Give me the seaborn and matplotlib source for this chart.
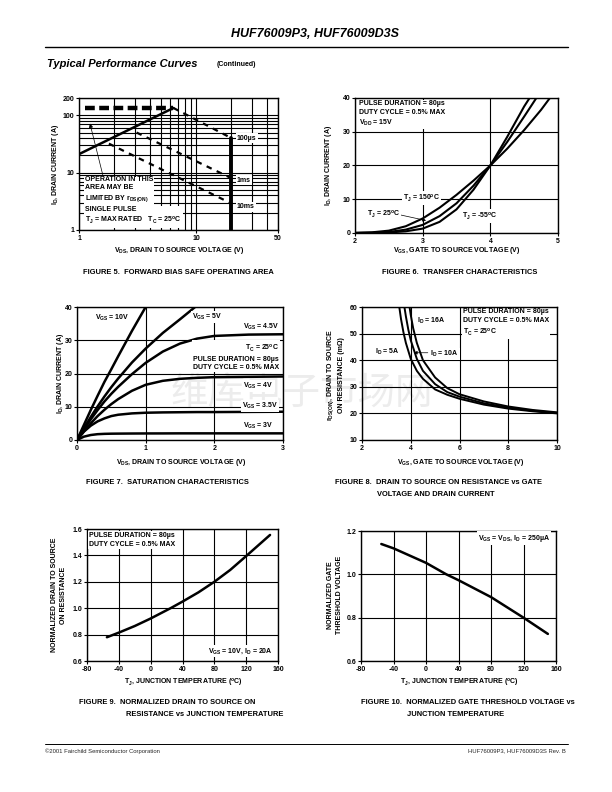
import numpy as np
import pandas as pd
import matplotlib
matplotlib.use("Agg")
import matplotlib.pyplot as plt
import seaborn as sns
from matplotlib.ticker import FixedLocator, FixedFormatter, LogLocator, NullFormatter

# ---------------- data ----------------
# Figure 5: forward bias safe operating area (log-log)
soa_rds_vds = [1.0, 6.4]
soa_rds_id = [21.0, 134.0]
soa_imax_vds = [1.12, 6.4]
soa_imax_id = [134.0, 134.0]
soa_100us_vds = [6.4, 20.0]
soa_100us_id = [134.0, 40.0]
soa_1ms_vds = [3.1, 20.0]
soa_1ms_id = [50.0, 8.0]
soa_10ms_vds = [1.8, 20.0]
soa_10ms_id = [32.0, 2.9]
soa_bv_vds = [20.0, 20.0]
soa_bv_id = [1.0, 40.0]

# Figure 6: transfer characteristics
tr_vgs_150 = [2.0, 2.25, 2.5, 2.75, 3.0, 3.25, 3.5, 3.75, 4.0, 4.25, 4.5, 4.75, 4.88]
tr_id_150 = [0.05, 0.2, 0.7, 2.0, 4.3, 7.5, 11.3, 15.5, 20.0, 25.0, 30.5, 36.5, 40.0]
tr_vgs_25 = [2.0, 2.25, 2.5, 2.75, 3.0, 3.25, 3.5, 3.75, 4.0, 4.25, 4.5, 4.68]
tr_id_25 = [0.02, 0.08, 0.3, 1.0, 2.4, 5.0, 8.8, 14.0, 20.0, 27.0, 34.5, 40.0]
tr_vgs_m55 = [2.0, 2.25, 2.5, 2.75, 3.0, 3.25, 3.5, 3.75, 4.0, 4.25, 4.5, 4.58]
tr_id_m55 = [0.0, 0.03, 0.15, 0.5, 1.3, 3.3, 7.0, 12.8, 20.0, 28.5, 37.5, 40.0]

# Figure 7: saturation characteristics
sat_vds = [0.0, 0.1, 0.2, 0.3, 0.4, 0.5, 0.6, 0.8, 1.0, 1.25, 1.5, 1.75, 2.0, 2.5, 3.0]
sat_vds_10v = [0.0, 0.1, 0.2, 0.3, 0.4, 0.5, 0.6, 0.8, 1.0]
sat_id_10v = [0.0, 4.5, 9.0, 13.3, 17.5, 21.3, 25.2, 32.8, 40.0]
sat_vds_5v = [0.0, 0.1, 0.2, 0.3, 0.4, 0.5, 0.6, 0.8, 1.0, 1.25, 1.5, 1.72]
sat_id_5v = [0.0, 3.5, 6.9, 10.1, 13.1, 15.9, 18.5, 23.3, 27.5, 32.2, 36.3, 40.0]
sat_id_45v = [0.0, 3.2, 6.2, 9.0, 11.6, 13.9, 16.0, 19.8, 23.2, 26.6, 29.0, 30.5, 31.3, 31.7, 31.8]
sat_id_4v = [0.0, 2.6, 5.0, 7.2, 9.1, 10.8, 12.3, 14.8, 16.6, 17.8, 18.4, 18.7, 18.9, 19.0, 19.1]
sat_id_35v = [0.0, 2.5, 4.3, 5.6, 6.5, 7.2, 7.6, 8.0, 8.2, 8.3, 8.35, 8.4, 8.4, 8.45, 8.5]
sat_id_3v = [0.0, 1.0, 1.5, 1.75, 1.85, 1.9, 1.92, 1.95, 1.97, 1.98, 2.0, 2.0, 2.0, 2.0, 2.0]

# Figure 8: rDS(on) vs VGS
rds_vgs_5a = [3.53, 3.6, 3.7, 3.8, 4.0, 4.25, 4.5, 5.0, 5.5, 6.0, 7.0, 8.0, 9.0, 10.0]
rds_r_5a = [60.0, 55.5, 50.5, 46.5, 40.5, 36.0, 33.0, 29.0, 27.0, 25.5, 23.3, 21.8, 20.8, 20.0]
rds_vgs_10a = [3.74, 3.8, 3.9, 4.0, 4.25, 4.5, 5.0, 5.5, 6.0, 7.0, 8.0, 9.0, 10.0]
rds_r_10a = [60.0, 56.5, 51.5, 47.5, 40.5, 36.0, 31.0, 28.0, 26.3, 23.8, 22.2, 21.0, 20.2]
rds_vgs_16a = [3.95, 4.0, 4.1, 4.25, 4.5, 5.0, 5.5, 6.0, 7.0, 8.0, 9.0, 10.0]
rds_r_16a = [60.0, 57.0, 52.0, 46.5, 40.0, 33.5, 29.5, 27.2, 24.5, 22.6, 21.3, 20.4]

# Figure 9: normalized rDS(on) vs TJ
nr_tj = [-55, -40, -20, 0, 25, 40, 60, 80, 100, 120, 150]
nr_val = [0.78, 0.815, 0.865, 0.922, 1.0, 1.05, 1.12, 1.2, 1.29, 1.395, 1.555]

# Figure 10: normalized gate threshold vs TJ
vt_tj = [-55, -40, 0, 25, 40, 80, 120, 150]
vt_val = [1.14, 1.12, 1.053, 1.0, 0.973, 0.895, 0.80, 0.725]

# ---------------- style ----------------
sns.set_theme(style="white")
plt.rcParams['font.family'] = ['Liberation Sans', 'DejaVu Sans']
plt.rcParams['font.weight'] = 'bold'
plt.rcParams['mathtext.fontset'] = 'custom'
plt.rcParams['mathtext.rm'] = 'Liberation Sans:bold'
plt.rcParams['mathtext.it'] = 'Liberation Sans:bold'
plt.rcParams['mathtext.bf'] = 'Liberation Sans:bold'
plt.rcParams['axes.linewidth'] = 1.0
plt.rcParams['axes.edgecolor'] = 'black'

W, H = 612, 792
fig = plt.figure(figsize=(W / 100, H / 100), dpi=100)
fig.patch.set_facecolor('white')


def box(x0, y0, x1, y1):
    return [x0 / W, 1 - y1 / H, (x1 - x0) / W, (y1 - y0) / H]


def P(x, y):
    return (x / W, 1 - y / H)


TS = 5.0      # tick / label size
BB = dict(facecolor='white', edgecolor='none', pad=0.8)


def ftext(x, y, s, size=TS, **kw):
    kw.setdefault('ha', 'left')
    kw.setdefault('va', 'center')
    fig.text(*P(x, y), s, fontsize=size, fontweight='bold', color='black', **kw)


def atext(ax, x, y, s, size=TS, bbox=True, **kw):
    kw.setdefault('ha', 'left')
    kw.setdefault('va', 'center')
    ax.text(*P(x, y), s, transform=fig.transFigure, fontsize=size, fontweight='bold',
            color='black', bbox=BB if bbox else None, zorder=5, **kw)


def style_ax(ax, xt, yt, xl, yl, xlab=None, ylab=None):
    ax.set_facecolor('none')
    ax.set_xlim(*xl)
    ax.set_ylim(*yl)
    ax.xaxis.set_major_locator(FixedLocator(xt))
    ax.yaxis.set_major_locator(FixedLocator(yt))
    ax.xaxis.set_major_formatter(FixedFormatter(xlab if xlab else [str(v) for v in xt]))
    ax.yaxis.set_major_formatter(FixedFormatter(ylab if ylab else [str(v) for v in yt]))
    ax.grid(True, which='major', color='black', lw=0.8)
    ax.tick_params(which='major', direction='out', length=2.2, width=0.8, pad=1.2,
                   labelsize=TS, colors='black', bottom=True, left=True)
    ax.tick_params(which='minor', length=0)
    for s in ax.spines.values():
        s.set_color('black')
        s.set_linewidth(1.0)
    ax.set_xlabel('')
    ax.set_ylabel('')
    for lbl in ax.get_xticklabels() + ax.get_yticklabels():
        lbl.set_fontweight('bold')


def draw(ax, x, y, lw=1.8, **kw):
    sns.lineplot(x=x, y=y, ax=ax, color='black', lw=lw, estimator=None, sort=False,
                 legend=False, **kw)


# watermark (behind axes)
fig.text(*P(302, 394), "维库电子市场网", fontsize=27, color='#ececec',
         family=['Noto Sans CJK SC', 'DejaVu Sans'], fontweight='normal',
         ha='center', va='center', zorder=-5)

# header / footer
ftext(315, 34, "HUF76009P3, HUF76009D3S", size=9, ha='center', style='italic')
fig.add_artist(plt.Line2D([45 / W, 568 / W], [1 - 47 / H, 1 - 47 / H], color='black', lw=1.0))
ftext(47, 64, "Typical Performance Curves", size=8, style='italic')
ftext(217, 65, "(Continued)", size=5)
fig.add_artist(plt.Line2D([45 / W, 568 / W], [1 - 744 / H, 1 - 744 / H], color='black', lw=0.7))
fig.text(*P(45, 751), "©2001 Fairchild Semiconductor Corporation", fontsize=4.2,
         fontweight='normal', ha='left', va='center')
fig.text(*P(566, 751), "HUF76009P3, HUF76009D3S Rev. B", fontsize=4.2,
         fontweight='normal', ha='right', va='center')

# ---------------- Figure 5 ----------------
ax5 = fig.add_axes(box(79, 98, 278, 230))
ax5.set_xscale('log')
ax5.set_yscale('log')
draw(ax5, soa_rds_vds, soa_rds_id, lw=1.8)
draw(ax5, soa_imax_vds, soa_imax_id, lw=3.2, linestyle=(0, (2.2, 1.0)))
draw(ax5, soa_100us_vds, soa_100us_id, lw=1.6, linestyle=(0, (2.5, 2.5)))
draw(ax5, soa_1ms_vds, soa_1ms_id, lw=1.6, linestyle=(0, (2.5, 2.5)))
draw(ax5, soa_10ms_vds, soa_10ms_id, lw=1.6, linestyle=(0, (2.5, 2.5)))
draw(ax5, soa_bv_vds, soa_bv_id, lw=2.8)
style_ax(ax5, [1, 10, 50], [1, 10, 100, 200], (1, 50), (1, 200))
ax5.xaxis.set_minor_locator(LogLocator(base=10, subs=np.arange(2, 10)))
ax5.yaxis.set_minor_locator(LogLocator(base=10, subs=np.arange(2, 10)))
ax5.xaxis.set_minor_formatter(NullFormatter())
ax5.yaxis.set_minor_formatter(NullFormatter())
ax5.grid(True, which='minor', color='black', lw=0.8)
ax5.annotate('', xy=(1.24, 72), xytext=(1.61, 8.5),
             arrowprops=dict(arrowstyle='-|>', lw=0.5, color='black', mutation_scale=6,
                             shrinkA=0, shrinkB=0), zorder=4)
atext(ax5, 237, 138, "100µs")
atext(ax5, 237, 180, "1ms")
atext(ax5, 237, 207, "10ms")
atext(ax5, 85, 190, "OPERATION IN THIS\nAREA MAY BE\nLIMITED BY r$_\\mathrm{DS(ON)}$",
      linespacing=1.35)
atext(ax5, 85, 216, "SINGLE PULSE\nT$_\\mathrm{J}$ = MAX RATED   T$_\\mathrm{C}$ = 25$^\\mathrm{o}$C",
      linespacing=1.35)
ftext(179, 251, "V$_\\mathrm{DS}$, DRAIN TO SOURCE VOLTAGE (V)", ha='center')
ftext(56, 164, "I$_\\mathrm{D}$, DRAIN CURRENT (A)", ha='center', rotation=90)
ftext(178, 272, "FIGURE 5.  FORWARD BIAS SAFE OPERATING AREA", size=5.4, ha='center')

# ---------------- Figure 6 ----------------
ax6 = fig.add_axes(box(355, 98, 558, 233))
df6 = pd.DataFrame({
    'vgs': tr_vgs_150 + tr_vgs_25 + tr_vgs_m55,
    'id': tr_id_150 + tr_id_25 + tr_id_m55,
    'tj': ['150'] * len(tr_vgs_150) + ['25'] * len(tr_vgs_25) + ['-55'] * len(tr_vgs_m55),
})
sns.lineplot(data=df6, x='vgs', y='id', hue='tj', palette=['black'] * 3, lw=1.5,
             estimator=None, sort=False, legend=False, ax=ax6)
style_ax(ax6, [2, 3, 4, 5], [0, 10, 20, 30, 40], (2, 5), (0, 40))
atext(ax6, 359, 114, "PULSE DURATION = 80µs\nDUTY CYCLE = 0.5% MAX\nV$_\\mathrm{DD}$ = 15V",
      linespacing=1.3)
atext(ax6, 403, 198, "T$_\\mathrm{J}$ = 150$^\\mathrm{o}$C")
atext(ax6, 367, 214, "T$_\\mathrm{J}$ = 25$^\\mathrm{o}$C")
atext(ax6, 462, 216, "T$_\\mathrm{J}$ = -55$^\\mathrm{o}$C")
ax6.annotate('', xy=(3.05, 3.7), xytext=(2.66, 5.4),
             arrowprops=dict(arrowstyle='-|>', lw=0.5, color='black', mutation_scale=5,
                             shrinkA=0, shrinkB=0), zorder=4)
ftext(457, 251, "V$_\\mathrm{GS}$, GATE TO SOURCE VOLTAGE (V)", ha='center')
ftext(329, 165, "I$_\\mathrm{D}$, DRAIN CURRENT (A)", ha='center', rotation=90)
ftext(460, 272, "FIGURE 6.  TRANSFER CHARACTERISTICS", size=5.4, ha='center')

# ---------------- Figure 7 ----------------
ax7 = fig.add_axes(box(77, 307, 283, 440))
n = len(sat_vds)
df7 = pd.DataFrame({
    'vds': sat_vds_10v + sat_vds_5v + sat_vds * 4,
    'id': sat_id_10v + sat_id_5v + sat_id_45v + sat_id_4v + sat_id_35v + sat_id_3v,
    'vgs': ['10'] * len(sat_vds_10v) + ['5'] * len(sat_vds_5v) + ['4.5'] * n + ['4'] * n
           + ['3.5'] * n + ['3'] * n,
})
sns.lineplot(data=df7, x='vds', y='id', hue='vgs', palette=['black'] * 6, lw=1.8,
             estimator=None, sort=False, legend=False, ax=ax7)
style_ax(ax7, [0, 1, 2, 3], [0, 10, 20, 30, 40], (0, 3), (0, 40))
atext(ax7, 95, 318, "V$_\\mathrm{GS}$ = 10V")
atext(ax7, 192, 317, "V$_\\mathrm{GS}$ = 5V")
atext(ax7, 279, 327, "V$_\\mathrm{GS}$ = 4.5V", ha='right')
atext(ax7, 279, 357, "T$_\\mathrm{C}$ = 25$^\\mathrm{o}$C\nPULSE DURATION = 80µs\nDUTY CYCLE = 0.5% MAX",
      ha='right', multialignment='right', linespacing=1.35)
atext(ax7, 274, 386, "V$_\\mathrm{GS}$ = 4V", ha='right')
atext(ax7, 278, 406, "V$_\\mathrm{GS}$ = 3.5V", ha='right')
atext(ax7, 274, 426, "V$_\\mathrm{GS}$ = 3V", ha='right')
ftext(181, 462, "V$_\\mathrm{DS}$, DRAIN TO SOURCE VOLTAGE (V)", ha='center')
ftext(61, 373, "I$_\\mathrm{D}$, DRAIN CURRENT (A)", ha='center', rotation=90)
ftext(167, 483, "FIGURE 7.  SATURATION CHARACTERISTICS", size=5.4, ha='center')

# ---------------- Figure 8 ----------------
ax8 = fig.add_axes(box(362, 307, 557, 440))
df8 = pd.DataFrame({
    'vgs': rds_vgs_5a + rds_vgs_10a + rds_vgs_16a,
    'r': rds_r_5a + rds_r_10a + rds_r_16a,
    'id': ['5'] * len(rds_vgs_5a) + ['10'] * len(rds_vgs_10a) + ['16'] * len(rds_vgs_16a),
})
sns.lineplot(data=df8, x='vgs', y='r', hue='id', palette=['black'] * 3, lw=1.4,
             estimator=None, sort=False, legend=False, ax=ax8)
style_ax(ax8, [2, 4, 6, 8, 10], [10, 20, 30, 40, 50, 60], (2, 10), (10, 60))
atext(ax8, 417, 321, "I$_\\mathrm{D}$ = 16A")
atext(ax8, 375, 352, "I$_\\mathrm{D}$ = 5A")
atext(ax8, 430, 354, "I$_\\mathrm{D}$ = 10A")
ax8.annotate('', xy=(4.12, 42.8), xytext=(4.7, 42.8),
             arrowprops=dict(arrowstyle='-|>', lw=0.5, color='black', mutation_scale=5,
                             shrinkA=0, shrinkB=0), zorder=4)
atext(ax8, 463, 323, "PULSE DURATION = 80µs\nDUTY CYCLE = 0.5% MAX\nT$_\\mathrm{C}$ = 25$^\\mathrm{o}$C",
      linespacing=1.3)
ftext(461, 462, "V$_\\mathrm{GS}$, GATE TO SOURCE VOLTAGE (V)", ha='center')
ftext(335, 375, "r$_\\mathrm{DS(ON)}$, DRAIN TO SOURCE\nON RESISTANCE (mΩ)", ha='center',
      rotation=90, multialignment='center', linespacing=1.25)
ftext(335, 483, "FIGURE 8.  DRAIN TO SOURCE ON RESISTANCE vs GATE", size=5.4)
ftext(377, 494, "VOLTAGE AND DRAIN CURRENT", size=5.4)

# ---------------- Figure 9 ----------------
ax9 = fig.add_axes(box(87, 529, 278, 661))
draw(ax9, nr_tj, nr_val, lw=1.8)
style_ax(ax9, [-80, -40, 0, 40, 80, 120, 160], [0.6, 0.8, 1.0, 1.2, 1.4, 1.6], (-80, 160), (0.6, 1.6),
         ylab=['0.6', '0.8', '1.0', '1.2', '1.4', '1.6'])
atext(ax9, 89, 540, "PULSE DURATION = 80µs\nDUTY CYCLE = 0.5% MAX", linespacing=1.35)
atext(ax9, 273, 651, "V$_\\mathrm{GS}$ = 10V, I$_\\mathrm{D}$ = 20A", ha='right')
ftext(183, 683, "T$_\\mathrm{J}$, JUNCTION TEMPERATURE ($^\\mathrm{o}$C)", ha='center')
ftext(59, 595, "NORMALIZED DRAIN TO SOURCE\nON RESISTANCE", ha='center', rotation=90,
      multialignment='center', linespacing=1.25)
ftext(79, 703, "FIGURE 9.  NORMALIZED DRAIN TO SOURCE ON", size=5.4)
ftext(126, 714, "RESISTANCE vs JUNCTION TEMPERATURE", size=5.4)

# ---------------- Figure 10 ----------------
ax10 = fig.add_axes(box(361, 531, 556, 661))
draw(ax10, vt_tj, vt_val, lw=1.8)
style_ax(ax10, [-80, -40, 0, 40, 80, 120, 160], [0.6, 0.8, 1.0, 1.2], (-80, 160), (0.6, 1.2),
         ylab=['0.6', '0.8', '1.0', '1.2'])
atext(ax10, 550, 538, "V$_\\mathrm{GS}$ = V$_\\mathrm{DS}$, I$_\\mathrm{D}$ = 250µA", ha='right')
ftext(459, 683, "T$_\\mathrm{J}$, JUNCTION TEMPERATURE ($^\\mathrm{o}$C)", ha='center')
ftext(335, 595, "NORMALIZED GATE\nTHRESHOLD VOLTAGE", ha='center', rotation=90,
      multialignment='center', linespacing=1.25)
ftext(361, 703, "FIGURE 10.  NORMALIZED GATE THRESHOLD VOLTAGE vs", size=5.4)
ftext(407, 714, "JUNCTION TEMPERATURE", size=5.4)

fig.savefig("out.png", dpi=100, facecolor='white')
